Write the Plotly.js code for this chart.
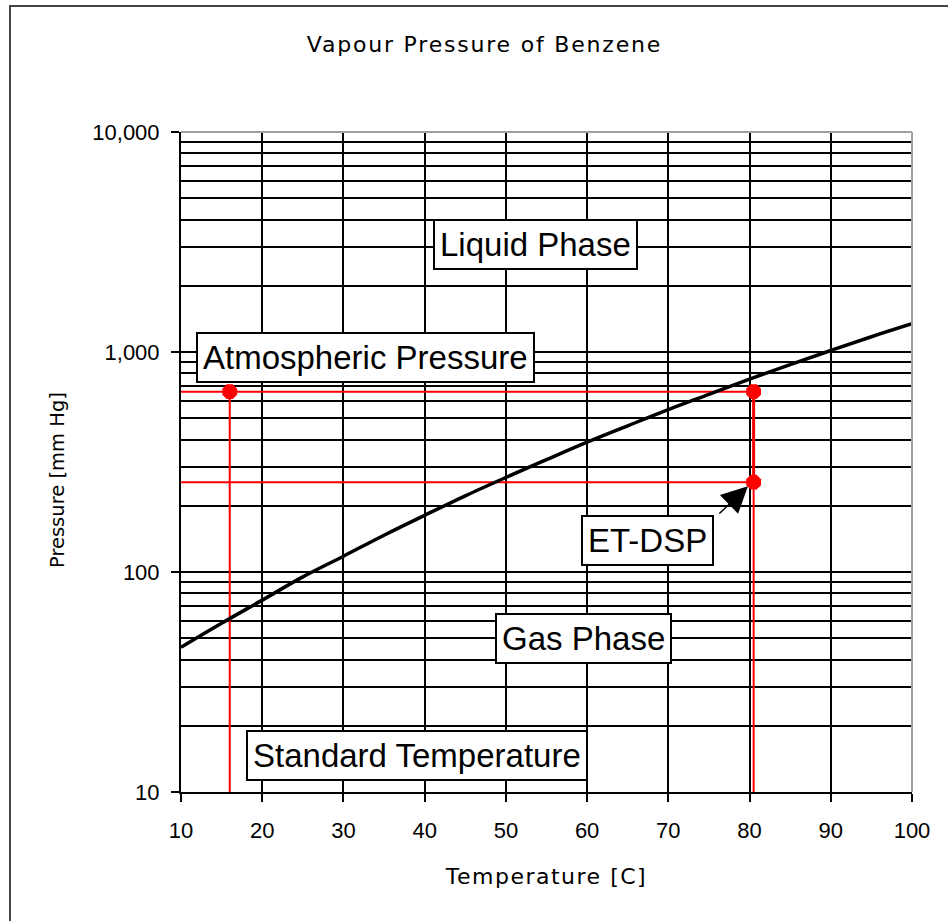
<!DOCTYPE html>
<html>
<head>
<meta charset="utf-8">
<script src="https://cdn.plot.ly/plotly-3.0.1.min.js"></script>
<style>
  html, body { margin: 0; padding: 0; background: #fff; }
  #chart { position: absolute; left: 0; top: 0; width: 948px; height: 921px; }
  #frame { position: absolute; left: 9px; top: 5px; width: 960px; height: 940px;
           border-left: 2px solid #444; border-top: 2px solid #444; pointer-events: none; }
  .gtitle { letter-spacing: 1.8px; }
  .xtitle { letter-spacing: 1.5px; }
</style>
</head>
<body>
<div id="chart"></div>
<div id="frame"></div>
<script>
// Vapour pressure curve of benzene
const tempC      = [10, 15, 20, 25, 30, 35, 40, 45, 50, 55, 60, 65, 70, 75, 80, 85, 90, 95, 100];
const vpBenzene  = [45.5, 58.5, 74.5, 95, 118, 147, 181, 222, 269, 324, 389, 462, 547, 642, 753, 877, 1016, 1173, 1344];

// Reference lines / points (red)
const stdTemp    = 16;      // standard temperature
const bpTemp     = 80.5;    // temperature at the marked points
const atmP       = 660;     // atmospheric pressure level
const etdspP     = 256;     // ET-DSP pressure level
const xMin = 10, yMin = 10;

const yMajor = [10, 100, 1000, 10000];
const yMajorText = ['10', '100', '1,000', '10,000'];
const yMinor = [20,30,40,50,60,70,80,90, 200,300,400,500,600,700,800,900, 2000,3000,4000,5000,6000,7000,8000,9000];

const redLine = {color: '#ff0000', width: 2};
const traces = [
  {x: [xMin, bpTemp], y: [atmP, atmP], mode: 'lines', line: redLine, hoverinfo: 'skip'},
  {x: [xMin, bpTemp], y: [etdspP, etdspP], mode: 'lines', line: redLine, hoverinfo: 'skip'},
  {x: [stdTemp, stdTemp], y: [atmP, yMin], mode: 'lines', line: redLine, hoverinfo: 'skip'},
  {x: [bpTemp, bpTemp], y: [etdspP, yMin], mode: 'lines', line: redLine, hoverinfo: 'skip'},
  {x: [bpTemp, bpTemp], y: [atmP, etdspP], mode: 'lines', line: {color: '#ff0000', width: 3}, hoverinfo: 'skip'},
  {x: tempC, y: vpBenzene, mode: 'lines', line: {color: '#000000', width: 3.5, shape: 'spline'}},
  {x: [stdTemp, bpTemp, bpTemp], y: [atmP, atmP, etdspP], mode: 'markers',
   marker: {color: '#ff0000', size: 16, symbol: 'octagon', line: {width: 0}}}
];

const boxFont = {family: 'Liberation Sans, Arial, sans-serif', size: 33, color: '#000'};
function box(text, x, ylog) {
  return {text: text, x: x, y: ylog, xref: 'x', yref: 'y', showarrow: false,
          font: boxFont, bgcolor: '#ffffff', bordercolor: '#000000', borderwidth: 2, borderpad: 5};
}

const layout = {
  width: 948, height: 921,
  paper_bgcolor: '#ffffff', plot_bgcolor: '#ffffff',
  showlegend: false,
  margin: {l: 181, r: 36, t: 132, b: 129, pad: 0},
  title: {text: 'Vapour Pressure of Benzene', x: 0.511, xanchor: 'center',
          y: 1 - 44/921, yanchor: 'middle', yref: 'container',
          font: {family: 'DejaVu Sans, sans-serif', size: 22, color: '#000'}},
  xaxis: {
    range: [10, 100], tick0: 10, dtick: 10, tickmode: 'linear',
    showgrid: true, gridcolor: '#000', gridwidth: 2,
    zeroline: false, showline: true, linecolor: '#000', linewidth: 2,
    ticks: 'outside', ticklen: 8, tickwidth: 2, tickcolor: '#000',
    tickfont: {family: 'Liberation Sans, Arial, sans-serif', size: 22, color: '#000'},
    ticklabelstandoff: 10,
    title: {text: 'Temperature [C]', standoff: 26,
            font: {family: 'DejaVu Sans, sans-serif', size: 22, color: '#000'}}
  },
  yaxis: {
    type: 'log', range: [1, 4],
    tickmode: 'array', tickvals: yMajor, ticktext: yMajorText,
    showgrid: true, gridcolor: '#000', gridwidth: 2,
    minor: {tickmode: 'array', tickvals: yMinor, showgrid: true, gridcolor: '#000', gridwidth: 2, ticks: ''},
    zeroline: false, showline: true, linecolor: '#000', linewidth: 2,
    ticks: 'outside', ticklen: 8, tickwidth: 2, tickcolor: '#000',
    tickfont: {family: 'Liberation Sans, Arial, sans-serif', size: 22, color: '#000'},
    ticklabelstandoff: 7
  },
  shapes: [
    {type: 'line', xref: 'paper', yref: 'paper', x0: 0, x1: 1, y0: 1, y1: 1, line: {color: '#a0a0a0', width: 2}, layer: 'above'},
    {type: 'line', xref: 'paper', yref: 'paper', x0: 1, x1: 1, y0: 0, y1: 1, line: {color: '#a0a0a0', width: 2}, layer: 'above'}
  ],
  annotations: [
    {text: 'Pressure [mm Hg]', xref: 'paper', yref: 'paper', x: -0.1696, y: 0.4727,
     xanchor: 'center', yanchor: 'middle', textangle: -90, showarrow: false,
     font: {family: 'DejaVu Sans, sans-serif', size: 19.5, color: '#000'}},
    box('Liquid Phase', 53.7, 3.49),
    box('Atmospheric Pressure', 32.7, 2.977),
    box('ET-DSP', 67.4, 2.145),
    box('Gas Phase', 59.6, 1.70),
    box('Standard Temperature', 39.1, 1.164),
    {text: '', x: 79.8, y: 2.39, xref: 'x', yref: 'y', axref: 'x', ayref: 'y',
     ax: 76.1, ay: 2.259, showarrow: true, arrowhead: 2, arrowsize: 3.5, arrowwidth: 1.5,
     arrowcolor: '#000', standoff: 0, startstandoff: 0}
  ]
};

Plotly.newPlot('chart', traces, layout, {staticPlot: true, displayModeBar: false});
</script>
</body>
</html>
